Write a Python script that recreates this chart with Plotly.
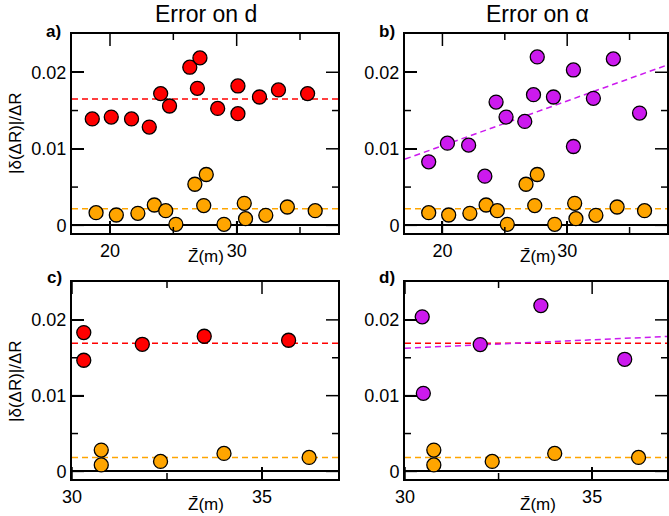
import plotly.graph_objects as go
import numpy as np

W, H = 669, 516

# ---------------- data ----------------
# Panel a) Error on d  (top-left)
a_red_z = [18.6, 20.1, 21.7, 23.1, 24.0, 24.7, 26.3, 27.1, 26.9, 28.5, 30.1, 30.1, 31.8, 33.3, 35.6]
a_red_err = [0.0139, 0.01415, 0.0139, 0.01284, 0.01721, 0.01559, 0.02066, 0.02188, 0.0179,
             0.01528, 0.01821, 0.01459, 0.01677, 0.01769, 0.01721]
# orange series shared by panels a) and b)
top_orange_z = [18.9, 20.5, 22.2, 23.5, 24.4, 25.2, 26.7, 27.6, 27.4, 29.0, 30.6, 30.7, 32.3, 34.0, 36.2]
top_orange_err = [0.00166, 0.00135, 0.00157, 0.00266, 0.00192, 0.00013, 0.00537, 0.00664, 0.00258,
                  0.00013, 0.00288, 0.00087, 0.00131, 0.0024, 0.00192]
# Panel b) Error on alpha (top-right)
b_purple_z = [18.9, 20.4, 22.1, 23.4, 24.3, 25.1, 26.6, 27.3, 27.6, 28.9, 30.5, 30.5, 32.1, 33.7, 35.8]
b_purple_err = [0.0083, 0.01074, 0.01048, 0.00642, 0.01611, 0.01415, 0.01358, 0.01707, 0.02201,
                0.01677, 0.0203, 0.0103, 0.0166, 0.02175, 0.01467]
# Panel c) (bottom-left)
c_red_z = [30.31, 30.31, 31.85, 33.48, 35.7]
c_red_err = [0.01833, 0.01467, 0.01678, 0.01784, 0.01731]
# orange series shared by panels c) and d)
bottom_orange_z = [30.77, 30.77, 32.33, 34.0, 36.24]
bottom_orange_err = [0.00282, 0.00086, 0.00132, 0.00238, 0.00185]
# Panel d) (bottom-right)
d_purple_z = [30.46, 30.49, 32.01, 33.63, 35.87]
d_purple_err = [0.0204, 0.01031, 0.01674, 0.02189, 0.0148]

# dashed reference levels / fits
top_red_mean = 0.0165
top_orange_mean = 0.00218
b_purple_fit = [-0.001295, 0.000585]   # intercept, slope
bottom_red_mean = 0.0169
bottom_orange_mean = 0.00185
d_purple_fit = [0.00960, 0.000222]     # intercept, slope

top_xrange = [17, 38]
bottom_xrange = [30, 37]
yrange = [-0.001, 0.025]
top_xticks = [20, 30]
top_xminor = [25, 35]
bottom_xticks = [30, 35]
bottom_xminor = [32.5]
yticks = [0, 0.01, 0.02]
yticklabels = ["0", "0.01", "0.02"]
yminor = [0.005, 0.015]

RED = "#ff0000"
ORANGE = "#ffa500"
PURPLE = "#cc1aee"
FONT = "Liberation Sans, Arial, sans-serif"

fig = go.Figure()


def pts(x, y, color, xa, ya):
    fig.add_trace(go.Scatter(x=x, y=y, mode="markers", xaxis=xa, yaxis=ya,
                             marker=dict(size=14, color=color,
                                         line=dict(color="black", width=1.3)),
                             showlegend=False, hoverinfo="skip"))


def hline(level, xr, color, xa, ya):
    fig.add_trace(go.Scatter(x=xr, y=[level, level], mode="lines", xaxis=xa, yaxis=ya,
                             line=dict(color=color, width=1.5, dash="6px,4px"),
                             showlegend=False, hoverinfo="skip"))


def fitline(fit, xr, color, xa, ya):
    xs = np.array(xr, dtype=float)
    fig.add_trace(go.Scatter(x=xs, y=fit[0] + fit[1] * xs, mode="lines", xaxis=xa, yaxis=ya,
                             line=dict(color=color, width=1.5, dash="6px,4px"),
                             showlegend=False, hoverinfo="skip"))


# a)
hline(top_red_mean, top_xrange, RED, "x", "y")
hline(top_orange_mean, top_xrange, ORANGE, "x", "y")
pts(a_red_z, a_red_err, RED, "x", "y")
pts(top_orange_z, top_orange_err, ORANGE, "x", "y")
# b)
fitline(b_purple_fit, top_xrange, PURPLE, "x2", "y2")
hline(top_orange_mean, top_xrange, ORANGE, "x2", "y2")
pts(b_purple_z, b_purple_err, PURPLE, "x2", "y2")
pts(top_orange_z, top_orange_err, ORANGE, "x2", "y2")
# c)
hline(bottom_red_mean, bottom_xrange, RED, "x3", "y3")
hline(bottom_orange_mean, bottom_xrange, ORANGE, "x3", "y3")
pts(c_red_z, c_red_err, RED, "x3", "y3")
pts(bottom_orange_z, bottom_orange_err, ORANGE, "x3", "y3")
# d)
hline(bottom_red_mean, bottom_xrange, RED, "x4", "y4")
fitline(d_purple_fit, bottom_xrange, PURPLE, "x4", "y4")
hline(bottom_orange_mean, bottom_xrange, ORANGE, "x4", "y4")
pts(d_purple_z, d_purple_err, PURPLE, "x4", "y4")
pts(bottom_orange_z, bottom_orange_err, ORANGE, "x4", "y4")

# layout geometry (pixels in the full figure)
M = 1  # small margin all round
colL = (72, 338)
colR = (405, 667)
rowT = (34, 233)
rowB = (282, 479)
PW, PH = W - 2 * M, H - 2 * M


def clamp(v):
    return max(0.0, min(1.0, v))


def dx(c):
    return [clamp((c[0] - M) / PW), clamp((c[1] - M) / PW)]


def dy(r):
    return [clamp(1 - (r[1] - M) / PH), clamp(1 - (r[0] - M) / PH)]


def axis_common():
    return dict(showline=True, linecolor="black", linewidth=2, mirror=True,
                ticks="inside", ticklen=12, tickwidth=1.5, tickcolor="black",
                showgrid=False, tickfont=dict(family=FONT, size=18, color="black"))


def xaxis(dom, rng, tv, anchor):
    d = axis_common()
    d.update(domain=dom, range=rng, anchor=anchor, tickmode="array",
             tickvals=tv, ticktext=[str(v) for v in tv], zeroline=False)
    return d


def yaxis(dom, anchor):
    d = axis_common()
    d.update(domain=dom, range=yrange, anchor=anchor, tickmode="array",
             tickvals=yticks, ticktext=yticklabels,
             zeroline=True, zerolinecolor="black", zerolinewidth=1.5)
    return d


fig.update_layout(
    width=W, height=H,
    margin=dict(l=M, r=M, t=M, b=M, autoexpand=False),
    paper_bgcolor="white", plot_bgcolor="white",
    showlegend=False,
    xaxis=xaxis(dx(colL), top_xrange, top_xticks, "y"),
    yaxis=yaxis(dy(rowT), "x"),
    xaxis2=xaxis(dx(colR), top_xrange, top_xticks, "y2"),
    yaxis2=yaxis(dy(rowT), "x2"),
    xaxis3=xaxis(dx(colL), bottom_xrange, bottom_xticks, "y3"),
    yaxis3=yaxis(dy(rowB), "x3"),
    xaxis4=xaxis(dx(colR), bottom_xrange, bottom_xticks, "y4"),
    yaxis4=yaxis(dy(rowB), "x4"),
)

# tick marks drawn inside the frame on all four sides (major 12 px, minor 6 px)
MAJOR, MINOR = 12, 6


def tick_marks(xa, ya, col, row, xmaj, xmin, ymaj, ymin):
    wpx = col[1] - col[0]
    hpx = row[1] - row[0]
    line = dict(color="black", width=1.5)
    for vals, ln in ((xmaj, MAJOR), (xmin, MINOR)):
        f = ln / hpx
        for v in vals:
            fig.add_shape(type="line", xref=xa, yref=ya + " domain",
                          x0=v, x1=v, y0=0, y1=f, line=line, layer="above")
            fig.add_shape(type="line", xref=xa, yref=ya + " domain",
                          x0=v, x1=v, y0=1, y1=1 - f, line=line, layer="above")
    for vals, ln in ((ymaj, MAJOR), (ymin, MINOR)):
        f = ln / wpx
        for v in vals:
            fig.add_shape(type="line", xref=xa + " domain", yref=ya,
                          x0=0, x1=f, y0=v, y1=v, line=line, layer="above")
            fig.add_shape(type="line", xref=xa + " domain", yref=ya,
                          x0=1, x1=1 - f, y0=v, y1=v, line=line, layer="above")


tick_marks("x", "y", colL, rowT, top_xticks, top_xminor, yticks, yminor)
tick_marks("x2", "y2", colR, rowT, top_xticks, top_xminor, yticks, yminor)
tick_marks("x3", "y3", colL, rowB, bottom_xticks, bottom_xminor, yticks, yminor)
tick_marks("x4", "y4", colR, rowB, bottom_xticks, bottom_xminor, yticks, yminor)


def ann(text, px, py, size, bold=False, angle=0):
    fig.add_annotation(text=("<b>%s</b>" % text) if bold else text,
                       x=(px - M) / PW, y=1 - (py - M) / PH, xref="paper", yref="paper",
                       showarrow=False, textangle=angle,
                       xanchor="center", yanchor="middle",
                       font=dict(family=FONT, size=size, color="black"))


ann("Error on d", 206, 14, 23)
ann("Error on α", 537, 14, 23)
ann("a)", 53, 31, 17, bold=True)
ann("b)", 387, 31, 17, bold=True)
ann("c)", 54, 277, 17, bold=True)
ann("d)", 387, 277, 17, bold=True)
ann("Z\u0304(m)", 206, 256, 17)
ann("Z\u0304(m)", 538, 256, 17)
ann("Z\u0304(m)", 206, 504, 17)
ann("Z\u0304(m)", 538, 504, 17)
ann("|δ(ΔR)|/ΔR", 15, 133, 17, angle=-90)
ann("|δ(ΔR)|/ΔR", 15, 381, 17, angle=-90)

fig.write_html("out.html", config={"displayModeBar": False},
               post_script="document.body.style.margin='0';")
